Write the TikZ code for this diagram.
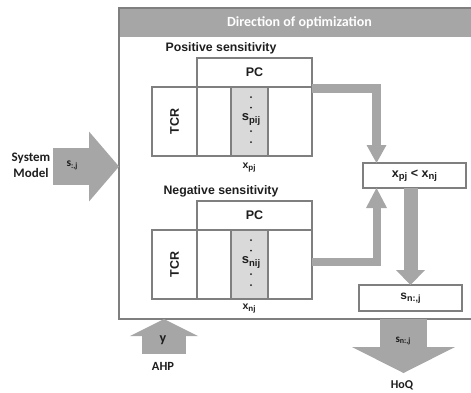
\documentclass[tikz,border=0pt]{standalone}
\usepackage{fontspec}
\usepackage{graphicx}
\setmainfont{Liberation Sans}
\newfontfamily\calib{Carlito}
\usetikzlibrary{arrows.meta,calc}
\definecolor{bordergray}{HTML}{7F7F7F}
\definecolor{fillgray}{HTML}{A6A6A6}
\definecolor{colgray}{HTML}{D9D9D9}
\definecolor{txt}{HTML}{1E1E1E}
\newcommand{\lsub}[2]{\raisebox{-0.35ex}{\fontsize{#1}{#1}\selectfont #2}}
\begin{document}
\begin{tikzpicture}[x=1pt,y=-1pt,
  cell/.style={draw=bordergray, line width=1.5pt, inner sep=0pt, outer sep=0pt, anchor=north west, text=txt, font=\fontsize{12.5}{12.5}\selectfont\bfseries},
  lbl/.style={inner sep=0pt, text=txt, font=\fontsize{11}{11}\selectfont\bfseries},
  clbl/.style={inner sep=0pt, text=txt, font=\calib\fontsize{13}{16}\selectfont\bfseries, align=center},
  flow/.style={draw=fillgray, line width=9pt, line join=miter},
  bigarrow/.style={draw=fillgray, fill=fillgray},
  dotm/.style={fill=txt}
]
\useasboundingbox (0,0) rectangle (471,392);
\clip (0,0) rectangle (471,392);

% outer frame and header
\node[draw=bordergray, line width=2pt, inner sep=0pt, outer sep=0pt, anchor=north west,
      minimum width=361, minimum height=311] (outer) at (119,8) {};
\node[fill=fillgray, inner sep=0pt, outer sep=0pt, anchor=north west, minimum width=360, minimum height=28,
      text=white, font=\calib\fontsize{14}{14}\selectfont\bfseries] (hdr) at (119.5,9) {Direction of optimization};

% positive block
\node[lbl, font=\fontsize{12.3}{12.3}\selectfont\bfseries] (ptitle) at (221,48) {Positive sensitivity};
\node[cell, minimum width=115, minimum height=29] (pPC) at (197,58) {PC};
\node[cell, minimum width=45, minimum height=69] (pTCR) at (152,87) {\rotatebox{90}{TCR}};
\node[cell, minimum width=34, minimum height=69] (pC1) at (197,87) {};
\node[cell, fill=colgray, minimum width=37, minimum height=69] (pS) at (231,87) {};
\node[cell, minimum width=44, minimum height=69] (pC3) at (268,87) {};
\fill[dotm] (251,97) circle (1) (251,107.5) circle (1) (251,131) circle (1) (251,142) circle (1);
\node[lbl, font=\fontsize{13}{13}\selectfont\bfseries] (psl) at (251,119.5) {s\lsub{9.5}{pij}};
\node[lbl, font=\fontsize{10.5}{10.5}\selectfont\bfseries] (pxl) at (249,168) {x\lsub{8}{pj}};

% negative block
\node[lbl, font=\fontsize{12.3}{12.3}\selectfont\bfseries] (ntitle) at (221,191) {Negative sensitivity};
\node[cell, minimum width=115, minimum height=29] (nPC) at (197,201) {PC};
\node[cell, minimum width=45, minimum height=69] (nTCR) at (152,230) {\rotatebox{90}{TCR}};
\node[cell, minimum width=34, minimum height=69] (nC1) at (197,230) {};
\node[cell, fill=colgray, minimum width=37, minimum height=69] (nS) at (231,230) {};
\node[cell, minimum width=44, minimum height=69] (nC3) at (268,230) {};
\fill[dotm] (251,240) circle (1) (251,250.5) circle (1) (251,274) circle (1) (251,285) circle (1);
\node[lbl, font=\fontsize{13}{13}\selectfont\bfseries] (nsl) at (251,262.5) {s\lsub{9.5}{nij}};
\node[lbl, font=\fontsize{10.5}{10.5}\selectfont\bfseries] (nxl) at (249,309) {x\lsub{8}{nj}};

% comparison and result boxes
\node[cell, minimum width=103, minimum height=25] (cmp) at (363,163) {x\lsub{9.5}{pj} < x\lsub{9.5}{nj}};
\node[cell, minimum width=103, minimum height=26, font=\fontsize{12}{12}\selectfont\bfseries] (snj) at (359,285) {s\lsub{9}{n:,j}};

% flow arrows
\draw[flow, -{Triangle[width=20pt,length=18pt,line width=0pt]}]
  ([yshift=-1.5pt]pPC.south east) -| ([xshift=13.5pt]cmp.north west);
\draw[flow, line width=8pt, -{Triangle[width=21pt,length=20pt,line width=0pt]}]
  ([yshift=2.5pt]nC3.east) -| ([xshift=13.5pt]cmp.south west);
\draw[flow, line width=14pt, -{Triangle[width=29pt,length=15pt,line width=0pt]}]
  (snj.north |- cmp.south) -- (snj.north);

% input: system model
\node[clbl] (sm) at (31,165) {System\\Model};
\coordinate (smstart) at (53,166.5);
\draw[bigarrow, line width=37pt, -{Triangle[width=70pt,length=30pt,line width=0pt]}]
  (smstart) -- (smstart -| outer.west);
\node[clbl, font=\calib\fontsize{11.5}{11.5}\selectfont\bfseries] (sml) at (72,165) {s\lsub{8}{:,j}};

% input: AHP
\node[clbl, font=\calib\fontsize{12.5}{12.5}\selectfont\bfseries] (ahp) at (163,366) {AHP};
\coordinate (ahpstart) at (164,354);
\draw[bigarrow, line width=44pt, -{Triangle[width=68pt,length=17pt,line width=0pt]}]
  (ahpstart) -- (ahpstart |- outer.south);
\node[clbl, font=\calib\fontsize{14}{14}\selectfont\bfseries] (yl) at (163,340) {y};

% output: HoQ
\coordinate (hoqtip) at (403.5,373);
\draw[bigarrow, line width=47pt, -{Triangle[width=103pt,length=26pt,line width=0pt]}]
  (hoqtip |- outer.south) -- (hoqtip);
\node[clbl, font=\calib\fontsize{11}{11}\selectfont\bfseries] (hsl) at (403,341) {s\lsub{8}{n:,j}};
\node[clbl, font=\calib\fontsize{12}{12}\selectfont\bfseries] (hoq) at (402,385) {HoQ};
\end{tikzpicture}
\end{document}
